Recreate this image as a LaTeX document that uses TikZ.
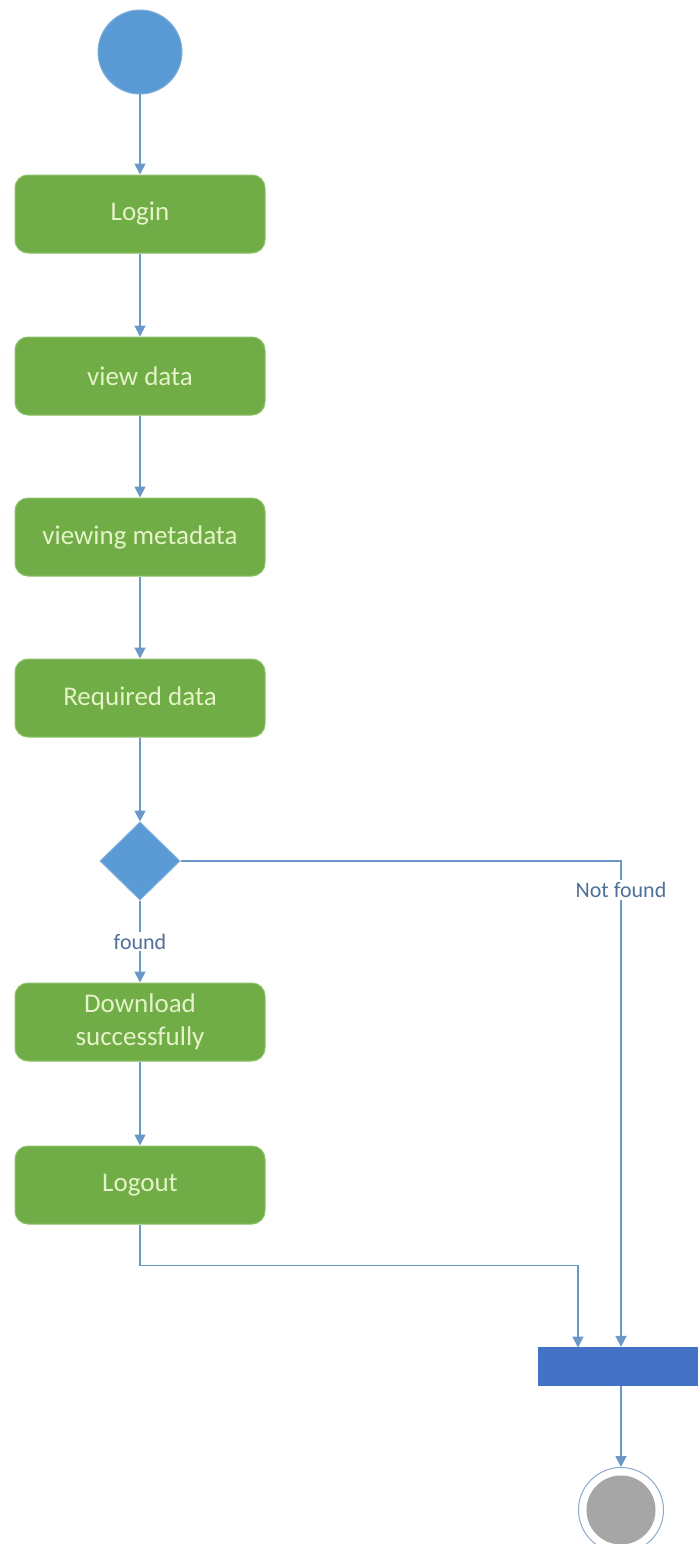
\documentclass[tikz,border=0pt]{standalone}
\usepackage{fontspec}
\setmainfont{Carlito}
\usetikzlibrary{shapes.geometric,arrows.meta}

\definecolor{actgreen}{HTML}{70AD47}
\definecolor{actedge}{HTML}{8CC168}
\definecolor{acttext}{HTML}{E6F2C8}
\definecolor{flowblue}{HTML}{5B9BD5}
\definecolor{barblue}{HTML}{4472C4}
\definecolor{connline}{HTML}{6A98C8}
\definecolor{lbltext}{HTML}{50709A}
\definecolor{endgray}{HTML}{A6A6A6}
\definecolor{endring}{HTML}{8EA9C8}

\tikzset{
  action/.style={draw=actedge, line width=1pt, fill=actgreen, rounded corners=13pt,
    minimum width=250pt, minimum height=78pt, inner sep=0pt, align=center,
    text=acttext, font=\fontsize{27}{33}\selectfont},
  conn/.style={draw=connline, line width=1.8pt,
    -{Triangle[length=11pt,width=11pt]}},
  lbl/.style={fill=white, text=lbltext, inner sep=2pt, font=\fontsize{22}{24}\selectfont},
  startnode/.style={circle, fill=flowblue, draw=flowblue!80!white, line width=1pt,
    minimum size=84pt, inner sep=0pt},
  decision/.style={diamond, fill=flowblue, draw=flowblue!80!white, line width=1pt,
    minimum width=80pt, minimum height=78pt, inner sep=0pt},
  joinbar/.style={rectangle, fill=barblue, minimum width=170pt, minimum height=39pt, inner sep=0pt},
}

\begin{document}
\begin{tikzpicture}[x=1pt,y=-1pt]
  \useasboundingbox (0,0) rectangle (697,1544);

  % start and activities
  \node[startnode] (start) at (140,52) {};
  \node[action] (login) at (140,214) {Login};
  \node[action] (view) at (140,376) {view data};
  \node[action] (meta) at (140,537) {viewing metadata};
  \node[action] (req) at (140,698) {Required data};
  \node[decision] (dec) at (140,861) {};
  \node[action] (dl) at (140,1022) {Download\\successfully};
  \node[action] (logout) at (140,1185) {Logout};

  % join bar and final node
  \node[joinbar] (bar) at (623,1366.5) {};
  \node[circle, fill=white, draw=endring, line width=1pt, minimum size=85pt, inner sep=0pt] (endc) at (621,1510) {};
  \node[circle, fill=endgray, minimum size=69pt, inner sep=0pt] (endin) at (endc.center) {};
  \coordinate (in1) at (578,1347.5);

  % flow
  \draw[conn] (start) -- (login);
  \draw[conn] (login) -- (view);
  \draw[conn] (view) -- (meta);
  \draw[conn] (meta) -- (req);
  \draw[conn] (req) -- (dec);
  \draw[conn] (dec) -- node[lbl] {found} (dl);
  \draw[conn] (dl) -- (logout);
  \draw[conn] (logout.south) -- ++(0,41) -| (in1);
  \draw[conn] (dec.east) -| (bar.north -| endc);
  \node[lbl] (nf) at (621,890) {Not found};
  \draw[conn] (bar.south -| endc) -- (endc.north);
\end{tikzpicture}
\end{document}
